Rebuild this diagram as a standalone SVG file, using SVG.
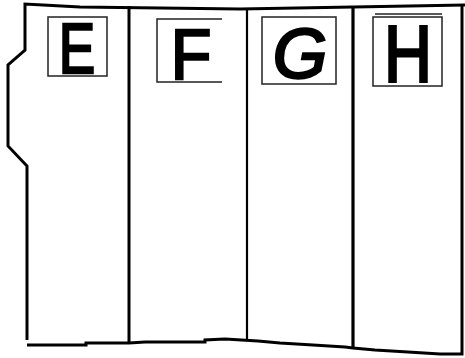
<svg xmlns="http://www.w3.org/2000/svg" width="465" height="358" viewBox="0 0 465 358">
<style>
.outline{fill:none;stroke:#000;stroke-width:3;stroke-linejoin:miter}
.div{stroke:#000;stroke-width:3}
.box{fill:none;stroke:#222;stroke-width:1.5}
.lbl{font-family:"Liberation Sans",Arial,sans-serif;font-size:70px;fill:#000;stroke:#000;stroke-width:2.5;text-anchor:middle}
</style>
<rect width="465" height="358" fill="#fff"/>
<g id="outline">
<path class="outline" d="M27,340 L27,166 L8,146 L8,65 L25,50 L25,4 L43,5 L80,7 L240,9 L353,7 L465,5"/>
<path class="outline" d="M27,345 L86,345 L86,343 L129,343 L145,342 L205,342 L205,340 L225,339 L258,341 L280,343 L313,345 L345,347 L353,348 L375,350 L408,352 L440,354 L462,354 L462,5"/>
</g>
<g id="connectors">
<line class="div" x1="129" y1="6" x2="129" y2="343"/>
<line class="div" x1="247" y1="10" x2="247" y2="340" style="stroke-width:2.2"/>
<line class="div" x1="353" y1="8" x2="353" y2="348" style="stroke-width:3.2"/>
</g>
<g id="E">
<rect class="box" x="48" y="17" width="59" height="59"/>
<text class="lbl" x="77" y="73" transform="translate(77 0) scale(0.78 1) translate(-77 0)">E</text>
</g>
<g id="F">
<path class="box" d="M222,19 L157,19 L157,82 L222,82"/>
<text class="lbl" x="191" y="79" transform="translate(191 0) scale(0.95 1) translate(-191 0)">F</text>
</g>
<g id="G">
<rect class="box" x="262" y="17" width="74" height="67"/>
<text class="lbl" x="300" y="78" style="font-style:italic">G</text>
</g>
<g id="H">
<rect class="box" x="373" y="17" width="69" height="69"/>
<line class="box" x1="375" y1="14" x2="442" y2="14"/>
<text class="lbl" x="408" y="81" transform="translate(408 0) scale(0.95 1.15) translate(-408 -10.5)">H</text>
</g>
</svg>
